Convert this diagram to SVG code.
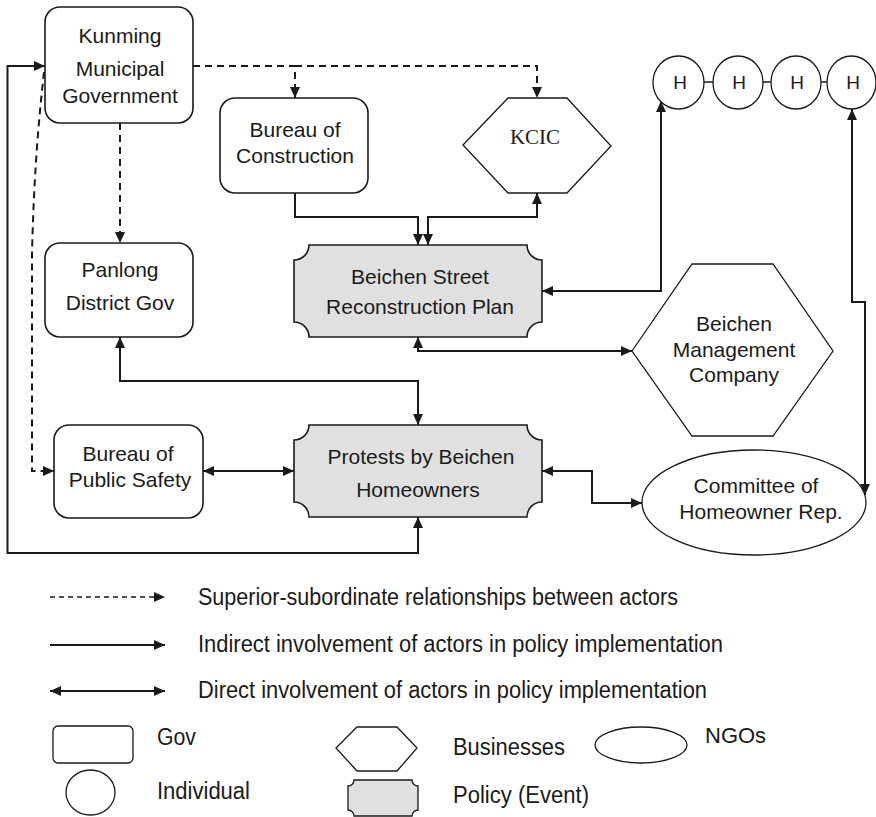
<svg xmlns="http://www.w3.org/2000/svg" width="876" height="817" viewBox="0 0 876 817">
<style>
.box{fill:#fff;stroke:#1a1a1a;stroke-width:1.6}
.pol{fill:#e0e0e0;stroke:#1a1a1a;stroke-width:1.6}
.hex{fill:#fff;stroke:#1a1a1a;stroke-width:1.3}
.t{font-family:"Liberation Sans",Arial,sans-serif;font-size:21px;fill:#1a1a1a;text-anchor:middle}
.ts{font-family:"Liberation Serif","Times New Roman",serif;font-size:21px;fill:#1a1a1a;text-anchor:middle}
.lt{font-family:"Liberation Sans",Arial,sans-serif;font-size:23px;fill:#1a1a1a}
.c{fill:none;stroke:#1a1a1a;stroke-width:2}
.d{fill:none;stroke:#1a1a1a;stroke-width:2;stroke-dasharray:7 5}
.ld{fill:none;stroke:#1a1a1a;stroke-width:1.6;stroke-dasharray:5 4}
</style>
<defs>
<marker id="a" markerUnits="userSpaceOnUse" markerWidth="12" markerHeight="10" refX="11" refY="5" orient="auto-start-reverse">
<path d="M0,0 L11,5 L0,10 Z" fill="#1a1a1a"/>
</marker>
</defs>

<g id="connectors">
<path class="d" d="M193,66 H295 V98" marker-end="url(#a)"/>
<path class="d" d="M295,66 H537 V98" marker-end="url(#a)"/>
<path class="d" d="M120,123 V243" marker-end="url(#a)"/>
<path class="d" d="M44,72 Q34,160 32,255 V471 H54" marker-end="url(#a)"/>
<path class="c" d="M295,193 V217 H418 V245" marker-end="url(#a)"/>
<path class="c" d="M537,193 V217 H428 V245" marker-start="url(#a)" marker-end="url(#a)"/>
<path class="c" d="M542,291 H661 V101" marker-start="url(#a)" marker-end="url(#a)"/>
<path class="c" d="M418,337 V351 H632" marker-start="url(#a)" marker-end="url(#a)"/>
<path class="c" d="M120,337 V381 H418 V425" marker-start="url(#a)" marker-end="url(#a)"/>
<path class="c" d="M203,471 H294" marker-start="url(#a)" marker-end="url(#a)"/>
<path class="c" d="M418,517 V553 H7.5 V66 H45" marker-start="url(#a)" marker-end="url(#a)"/>
<path class="c" d="M542,471 H592 V503 H642" marker-start="url(#a)" marker-end="url(#a)"/>
<path class="c" d="M852,109 V302 H865 V495" marker-start="url(#a)" marker-end="url(#a)"/>
<path class="c" style="stroke-width:1.4" d="M704,82 H713 M763,82 H771 M821,82 H827"/>
</g>

<g id="kunming">
<rect class="box" x="45" y="7" width="148" height="116" rx="15"/>
<text class="t" x="120" y="43">Kunming</text>
<text class="t" x="120" y="76">Municipal</text>
<text class="t" x="120" y="103">Government</text>
</g>

<g id="bureau-construction">
<rect class="box" x="220" y="98" width="148" height="95" rx="15"/>
<text class="t" x="295" y="137">Bureau of</text>
<text class="t" x="295" y="163">Construction</text>
</g>

<g id="kcic">
<polygon class="hex" points="463,145 508,98 567,98 611,146 567,193 508,193"/>
<text class="ts" x="535" y="144">KCIC</text>
</g>

<g id="h1"><ellipse class="hex" cx="678.5" cy="82.5" rx="25.5" ry="26.5"/><text class="t" style="font-size:19px" x="680" y="89">H</text></g>
<g id="h2"><ellipse class="hex" cx="738" cy="82.5" rx="25" ry="26.5"/><text class="t" style="font-size:19px" x="739" y="89">H</text></g>
<g id="h3"><ellipse class="hex" cx="796" cy="82.5" rx="25" ry="26.5"/><text class="t" style="font-size:19px" x="797" y="89">H</text></g>
<g id="h4"><ellipse class="hex" cx="851.5" cy="82.5" rx="24.5" ry="26.5"/><text class="t" style="font-size:19px" x="853" y="89">H</text></g>

<g id="panlong">
<rect class="box" x="45" y="243" width="148" height="94" rx="15"/>
<text class="t" x="120" y="277">Panlong</text>
<text class="t" x="120" y="310">District Gov</text>
</g>

<g id="plan">
<path class="pol" d="M309,245 H527 A15,15 0 0 0 542,260 V322 A15,15 0 0 0 527,337 H309 A15,15 0 0 0 294,322 V260 A15,15 0 0 0 309,245 Z"/>
<text class="t" x="420" y="284">Beichen Street</text>
<text class="t" x="420" y="314">Reconstruction Plan</text>
</g>

<g id="bmc">
<polygon class="hex" points="632,351 692,264 773,264 833,351 773,436 692,436"/>
<text class="t" x="734" y="331">Beichen</text>
<text class="t" x="734" y="357">Management</text>
<text class="t" x="734" y="382">Company</text>
</g>

<g id="bps">
<rect class="box" x="54" y="425" width="149" height="93" rx="15"/>
<text class="t" x="128" y="461">Bureau of</text>
<text class="t" x="130" y="487">Public Safety</text>
</g>

<g id="protests">
<path class="pol" d="M309,425 H527 A15,15 0 0 0 542,440 V502 A15,15 0 0 0 527,517 H309 A15,15 0 0 0 294,502 V440 A15,15 0 0 0 309,425 Z"/>
<text class="t" x="421" y="464">Protests by Beichen</text>
<text class="t" x="418" y="497">Homeowners</text>
</g>

<g id="committee">
<ellipse class="hex" cx="754" cy="502.5" rx="112" ry="52.5"/>
<text class="t" x="756" y="493">Committee of</text>
<text class="t" x="761" y="519">Homeowner Rep.</text>
</g>

<g id="legend">
<path class="ld" d="M50,597 H165" marker-end="url(#a)"/>
<text class="lt" x="198" y="605" textLength="480" lengthAdjust="spacingAndGlyphs">Superior-subordinate relationships between actors</text>
<path class="c" style="stroke-width:1.8" d="M50,645 H165" marker-end="url(#a)"/>
<text class="lt" x="198" y="652" textLength="525" lengthAdjust="spacingAndGlyphs">Indirect involvement of actors in policy implementation</text>
<path class="c" style="stroke-width:1.8" d="M50,691 H165" marker-start="url(#a)" marker-end="url(#a)"/>
<text class="lt" x="198" y="698" textLength="509" lengthAdjust="spacingAndGlyphs">Direct involvement of actors in policy implementation</text>
<rect class="box" style="stroke-width:1.3" x="53" y="726" width="80" height="37" rx="5"/>
<text class="lt" x="157" y="745" textLength="39" lengthAdjust="spacingAndGlyphs">Gov</text>
<ellipse class="hex" cx="90.5" cy="792.5" rx="24.5" ry="22.5"/>
<text class="lt" x="157" y="799" textLength="93" lengthAdjust="spacingAndGlyphs">Individual</text>
<polygon class="hex" points="336,748 357,727 397,727 417,748 397,771 357,771"/>
<text class="lt" x="453" y="755" textLength="112" lengthAdjust="spacingAndGlyphs">Businesses</text>
<path class="pol" style="stroke-width:1.3" d="M354,780 H412 A6,6 0 0 0 418,786 V810 A6,6 0 0 0 412,816 H354 A6,6 0 0 0 348,810 V786 A6,6 0 0 0 354,780 Z"/>
<text class="lt" x="453" y="803" textLength="136" lengthAdjust="spacingAndGlyphs">Policy (Event)</text>
<ellipse class="hex" cx="641" cy="745" rx="46" ry="18"/>
<text class="lt" x="705" y="743" style="font-size:22px">NGOs</text>
</g>
</svg>
